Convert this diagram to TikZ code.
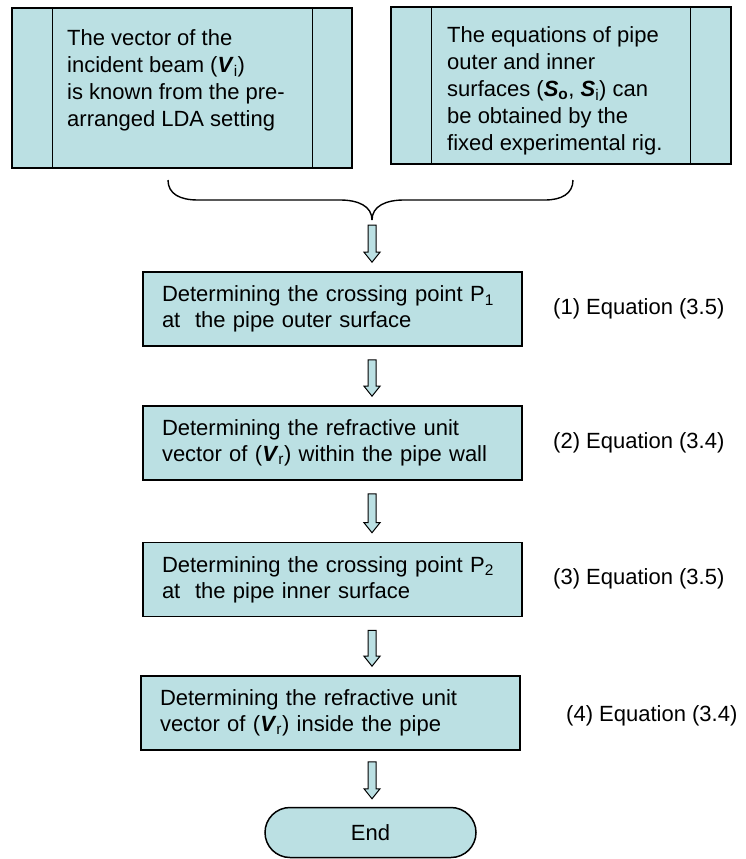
\documentclass[tikz,border=0pt]{standalone}
\usepackage{fontspec}
\setmainfont{Liberation Sans}
\usetikzlibrary{calc}
\definecolor{boxfill}{RGB}{187,224,227}
\newcommand{\blockarr}[2]{%
  \path[draw=black, fill=boxfill, line width=1pt, line join=miter]
    let \p1=(#1), \p2=(#2) in
    (\x1-4pt,\y1) -- (\x1+4pt,\y1) -- (\x1+4pt,\y2+10pt) -- (\x1+8pt,\y2+10pt)
    -- (\x1,\y2) -- (\x1-8pt,\y2+10pt) -- (\x1-4pt,\y2+10pt) -- cycle;}
\newcommand{\vv}[1]{\textbf{\textit{#1}}}
\begin{document}
\begin{tikzpicture}[x=1pt,y=-1pt,
  font=\fontsize{22}{26}\selectfont,
  topbox/.style={draw, fill=boxfill, line width=1.6pt, inner sep=0pt},
  divider/.style={line width=1.2pt},
  toptext/.style={anchor=north west, align=left, inner sep=0pt, font=\fontsize{22}{27}\selectfont},
  procbox/.style={draw, fill=boxfill, line width=1.6pt, minimum width=379pt, minimum height=74pt,
    text width=341pt, align=left, inner xsep=19pt, inner ysep=0pt},
  eq/.style={anchor=west, inner sep=0pt},
  brace/.style={line width=1.4pt},
  endnode/.style={draw, fill=boxfill, line width=1.5pt, rounded corners=25pt,
    minimum width=211pt, minimum height=50pt}]
\useasboundingbox (0,0) rectangle (745,859);

% top boxes
\node[topbox, minimum width=340pt, minimum height=160pt] (b1) at (182,88) {};
\draw[divider] ($(b1.north west)+(41,0)$) -- ($(b1.south west)+(41,0)$);
\draw[divider] ($(b1.north east)+(-40,0)$) -- ($(b1.south east)+(-40,0)$);
\node[toptext] (t1) at (67,29) {The vector of the\\incident beam (\vv{V}\textsubscript{i})\\is known from the pre-\\arranged LDA setting};

\node[topbox, minimum width=340pt, minimum height=157pt] (b2) at (561,85.5) {};
\draw[divider] ($(b2.north west)+(41,0)$) -- ($(b2.south west)+(41,0)$);
\draw[divider] ($(b2.north east)+(-41,0)$) -- ($(b2.south east)+(-41,0)$);
\node[toptext] (t2) at (447,26) {The equations of pipe\\outer and inner\\surfaces (\vv{S}\textsubscript{\textbf{o}}, \vv{S}\textsubscript{i}) can\\be obtained by the\\fixed experimental rig.};

% brace
\coordinate (ax) at (372,0);
\coordinate (tip) at (372,220);
\coordinate (bl) at (168,180);
\coordinate (br) at (573,180);
\draw[brace] (bl) .. controls (168,194) and (180,200) .. (198,200) -- (340,200)
  .. controls (358,200) and (372,206) .. (tip);
\draw[brace] (br) .. controls (573,194) and (561,200) .. (545,200) -- (404,200)
  .. controls (386,200) and (372,206) .. (tip);

% process boxes
\node[procbox] (b3) at (332.5,309) {Determining the crossing point P\textsubscript{1}\\at~ the pipe outer surface};
\node[procbox] (b4) at (332.5,443) {Determining the refractive unit\\vector of (\vv{V}\textsubscript{r}) within the pipe wall};
\node[procbox] (b5) at (332.5,579.5) {Determining the crossing point P\textsubscript{2}\\at~ the pipe inner surface};
\node[procbox] (b6) at (330.5,713) {Determining the refractive unit\\vector of (\vv{V}\textsubscript{r}) inside the pipe};
\node[endnode] (end) at (370.5,832.5) {End};

% labels
\node[eq] (e1) at (553,309) {(1) Equation (3.5)};
\node[eq] (e2) at (553,443) {(2) Equation (3.4)};
\node[eq] (e3) at (553,579) {(3) Equation (3.5)};
\node[eq] (e4) at (566,716) {(4) Equation (3.4)};

% arrows
\blockarr{$(tip)+(0,5)$}{$(b3.north -| ax)+(0,-9)$}
\blockarr{$(b3.south -| ax)+(0,13)$}{$(b4.north -| ax)+(0,-9)$}
\blockarr{$(b4.south -| ax)+(0,13)$}{$(b5.north -| ax)+(0,-9)$}
\blockarr{$(b5.south -| ax)+(0,13)$}{$(b6.north -| ax)+(0,-9)$}
\blockarr{$(b6.south -| ax)+(0,11)$}{$(end.north -| ax)+(0,-8)$}
\end{tikzpicture}
\end{document}
